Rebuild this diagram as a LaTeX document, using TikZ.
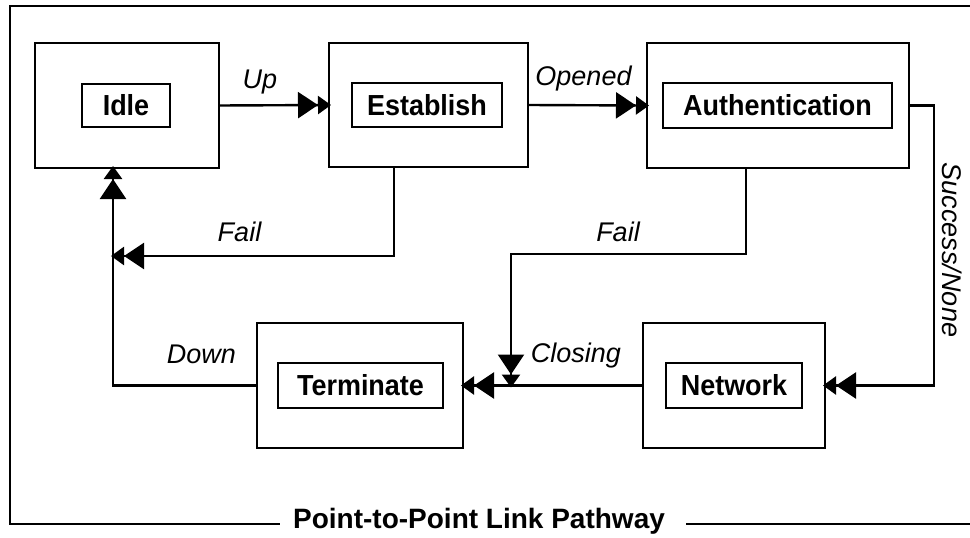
\documentclass[tikz,border=0pt]{standalone}
\usepackage{fontspec}
\setmainfont{Liberation Sans}
\usetikzlibrary{arrows.meta}
\newcommand\boxtxt[1]{\scalebox{0.93}[1]{#1}}
\tikzset{
  outerbox/.style={draw, line width=2.8pt, inner sep=0pt, outer sep=0pt},
  innerbox/.style={draw, line width=2.4pt, inner sep=0pt, outer sep=0pt,
    font=\fontsize{29}{32}\selectfont\bfseries},
  conn/.style={line width=2.4pt},
  dtip/.style={conn, -{Triangle[length=20pt,width=26pt] Triangle[length=13pt,width=18pt,sep=-2pt]}},
  lbl/.style={font=\fontsize{27}{30}\selectfont\itshape, inner sep=0pt, anchor=base},
  frame/.style={line width=2.8pt}
}
\begin{document}
\begin{tikzpicture}[x=1pt,y=-1pt]
\useasboundingbox (0,0) rectangle (970,538);
% boxes
\node[outerbox, minimum width=184pt, minimum height=125pt] (idle) at (127,105.5) {};
\node[innerbox, minimum width=88pt, minimum height=43pt] (idlein) at (126,105.5) {\boxtxt{Idle}};
\node[outerbox, minimum width=199pt, minimum height=124pt] (est) at (428.5,105) {};
\node[innerbox, minimum width=150pt, minimum height=44pt] (estin) at (427,105) {\boxtxt{Establish}};
\node[outerbox, minimum width=262pt, minimum height=125pt] (auth) at (778,105.5) {};
\node[innerbox, minimum width=229pt, minimum height=45pt] (authin) at (777.5,105.5) {\boxtxt{Authentication}};
\node[outerbox, minimum width=182pt, minimum height=125pt] (net) at (734,385.5) {};
\node[innerbox, minimum width=136pt, minimum height=45pt] (netin) at (734,385.5) {\boxtxt{Network}};
\node[outerbox, minimum width=206pt, minimum height=125pt] (term) at (360,385.5) {};
\node[innerbox, minimum width=165pt, minimum height=45pt] (termin) at (360.5,385.5) {\boxtxt{Terminate}};
% helper coordinates
\coordinate (sr) at (934,0);
\coordinate (dl) at (113,0);
\coordinate (f1) at (394,256);
\coordinate (f2) at (746,254);
\coordinate (f2b) at (511,0);
% connectors
\draw[dtip] (idle.east) -- (est.west);
\draw[dtip] (est.east) -- (auth.west);
\draw[dtip] (auth.east) -| (sr |- net.east) -- (net.east);
\draw[dtip] (net.west) -- (term.east);
\draw[dtip] (term.west) -| (dl |- idle.south);
\draw[dtip] (est.south -| f1) |- (dl |- f1);
\draw[dtip] (auth.south -| f2) |- (f2b |- f2) -- (f2b |- net.west);
% labels
\node[lbl] (lup) at (260,88) {Up};
\node[lbl] (lopen) at (583.5,85) {Opened};
\node[lbl] (lfail1) at (239.5,241) {Fail};
\node[lbl] (lfail2) at (618,241) {Fail};
\node[lbl] (lclose) at (576,362) {Closing};
\node[lbl] (ldown) at (201.5,363) {Down};
\node[lbl, rotate=-90] (lsucc) at (942,250) {Success/None};
% frame and title
\node[font=\fontsize{28}{31}\selectfont\bfseries, inner sep=0pt, anchor=base] (title) at (479,528) {Point-to-Point Link Pathway};
\coordinate (tl) at (10,6);
\coordinate (tr) at (972,6);
\coordinate (bl) at (10,524);
\coordinate (br) at (972,524);
\draw[frame] (tr) -- (tl) -- (bl) -- (bl -| 280,0);
\draw[frame] (686,524) -- (br);
\end{tikzpicture}
\end{document}
